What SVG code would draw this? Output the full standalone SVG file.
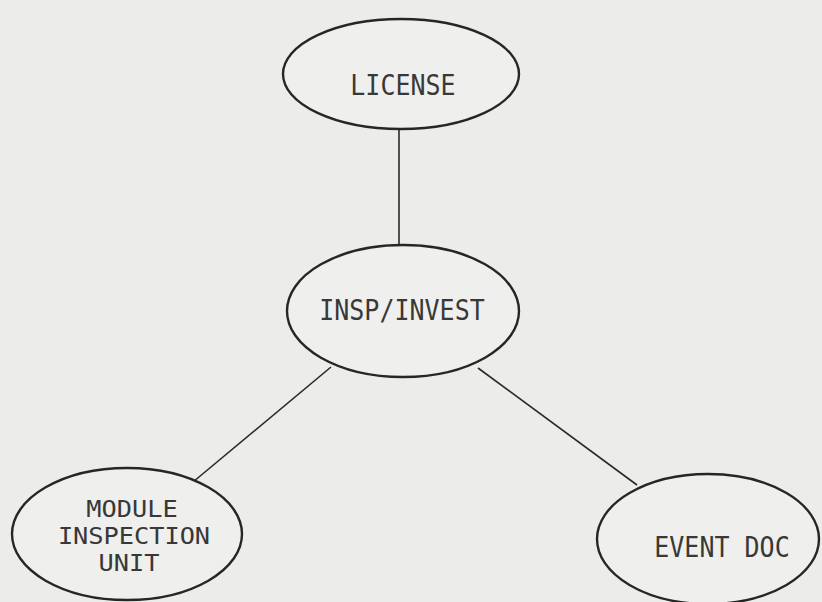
<svg xmlns="http://www.w3.org/2000/svg" width="822" height="602" viewBox="0 0 822 602">
<style>
.n{fill:#efefed;stroke:#262626;stroke-width:2.4}
.c line{stroke:#2a2a2a;stroke-width:1.6}
.t{font-family:"DejaVu Sans Mono","Liberation Mono",monospace;font-size:25px;fill:#383838;text-anchor:middle}
.m{font-size:23px}
</style>
<rect width="822" height="602" fill="#ececea"/>
<g class="c" id="connectors">
<line x1="399" y1="130" x2="399" y2="244"/>
<line x1="331" y1="367" x2="193" y2="482"/>
<line x1="478" y1="368" x2="637" y2="485"/>
</g>
<g id="license">
<ellipse class="n" cx="401" cy="74" rx="118" ry="55"/>
<text class="t" transform="translate(403,95) scale(1,1.15)" x="0" y="0">LICENSE</text>
</g>
<g id="insp">
<ellipse class="n" cx="403" cy="311" rx="116" ry="66"/>
<text class="t" transform="translate(402,320) scale(1,1.15)" x="0" y="0">INSP/INVEST</text>
</g>
<g id="module">
<ellipse class="n" cx="127" cy="534" rx="115" ry="66"/>
<text class="t m" transform="translate(132,517) scale(1.1,1)" x="0" y="0">MODULE</text>
<text class="t m" transform="translate(134,544) scale(1.1,1)" x="0" y="0">INSPECTION</text>
<text class="t m" transform="translate(129,571) scale(1.1,1)" x="0" y="0">UNIT</text>
</g>
<g id="event">
<ellipse class="n" cx="708" cy="539" rx="111" ry="65"/>
<text class="t" transform="translate(722,557) scale(1,1.15)" x="0" y="0">EVENT DOC</text>
</g>
</svg>
